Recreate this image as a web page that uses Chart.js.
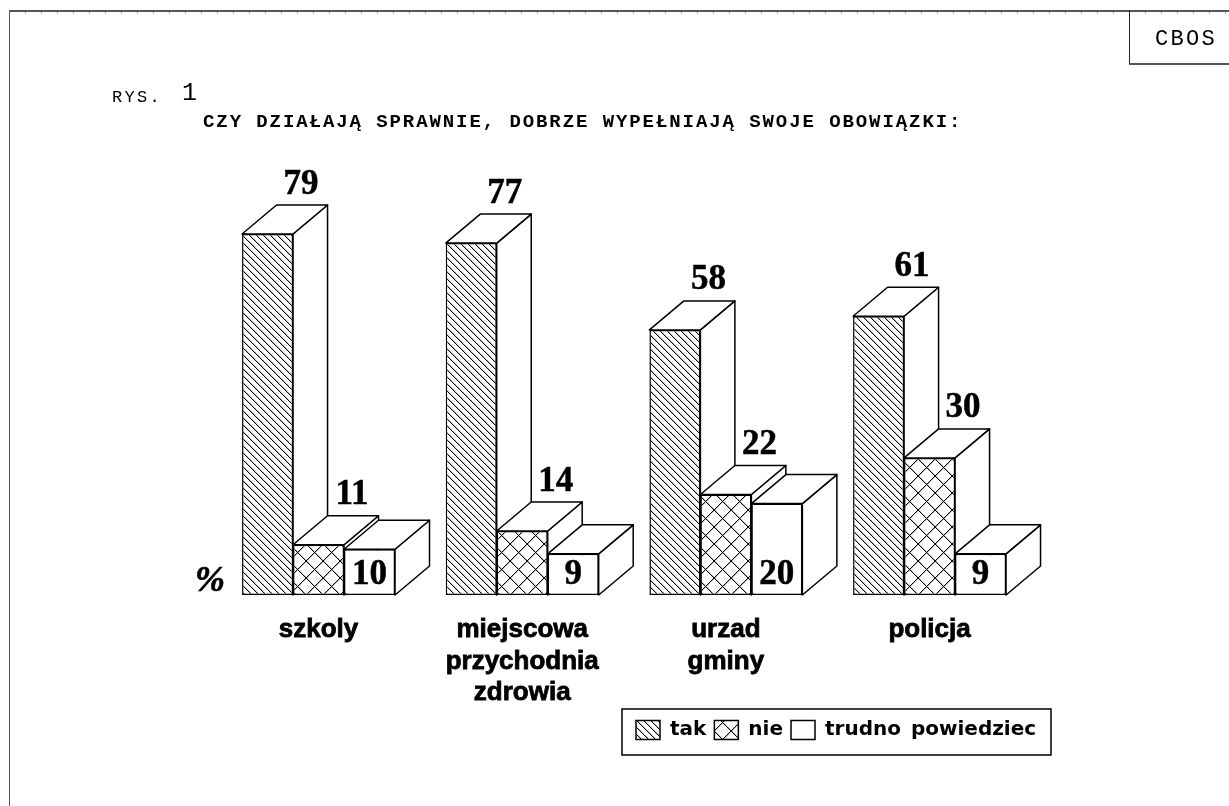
<!DOCTYPE html>
<html><head><meta charset="utf-8">
<script src="https://cdn.jsdelivr.net/npm/chart.js@4"></script>
<style>
html,body{margin:0;padding:0;background:#fff;width:1229px;height:806px;overflow:hidden}
#wrap{position:relative;width:1229px;height:806px}
canvas{position:absolute;left:0;top:0}
.t{position:absolute;color:#000;white-space:pre;line-height:1}
.l{position:absolute;background:#555}
</style></head><body>
<div id="wrap">
<canvas id="c" width="1229" height="806"></canvas>
<div class="l" style="left:9px;top:10px;width:1220px;height:2px"></div>
<div class="l" style="left:9px;top:12px;width:1220px;height:2px;background:repeating-linear-gradient(90deg,#aaa 0,#aaa 1px,transparent 1px,transparent 16px)"></div>
<div class="l" style="left:9px;top:10px;width:1px;height:796px"></div>
<div class="l" style="left:1129px;top:10px;width:1px;height:54px;background:#222"></div>
<div class="l" style="left:1129px;top:63px;width:100px;height:2px"></div>
<div class="t" style="left:1155px;top:27px;font:22px 'Liberation Mono';letter-spacing:2.3px">CBOS</div>
<div class="t" style="left:112px;top:88px;font:17px 'Liberation Mono';letter-spacing:2.3px">RYS.</div>
<div class="t" style="left:182px;top:79px;font:25px 'Liberation Mono'">1</div>
<div class="t" style="left:203px;top:111px;font:bold 19px 'Liberation Mono';letter-spacing:1.92px">CZY DZIAŁAJĄ SPRAWNIE, DOBRZE WYPEŁNIAJĄ SWOJE OBOWIĄZKI:</div>
<div class="t" style="left:195px;top:558px;font:italic bold 36px 'Liberation Serif';-webkit-text-stroke:.6px #000">%</div>
</div>
<script>
const categories = [["szkoly"], ["miejscowa","przychodnia","zdrowia"], ["urzad","gminy"], ["policja"]];
const seriesNames = ["tak", "nie", "trudno powiedziec"];
const tak = [79, 77, 58, 61];
const nie = [11, 14, 22, 30];
const trudno = [10, 9, 20, 9];

function hatchPattern(size, both){
  const p = document.createElement('canvas'); p.width = p.height = size;
  const g = p.getContext('2d');
  g.fillStyle = '#fff'; g.fillRect(0,0,size,size);
  for(let k=0;k<size;k++){
    g.fillStyle='#bbb'; g.fillRect((k+1)%size,k,1,1);
    if(both) g.fillRect((size-k)%size,k,1,1);
  }
  g.fillStyle='#000';
  for(let k=0;k<size;k++){
    g.fillRect(k,k,1,1);
    if(both) g.fillRect(size-1-k,k,1,1);
  }
  return g.createPattern(p,'repeat');
}
const DX = 34.5, DY = 29;

const box3d = {
  id:'box3d',
  beforeDatasetsDraw(chart){
    const ctx = chart.ctx;
    ctx.save();
    ctx.strokeStyle='#000'; ctx.lineWidth=1.5; ctx.lineJoin='round'; ctx.fillStyle='#fff';
    const n = chart.data.labels.length;
    for(let i=0;i<n;i++){
      chart.data.datasets.forEach((ds,d)=>{
        const b = chart.getDatasetMeta(d).data[i];
        const L=b.x-b.width/2, R=b.x+b.width/2, T=b.y, B=b.base;
        ctx.beginPath();
        ctx.moveTo(R,T); ctx.lineTo(R+DX,T-DY); ctx.lineTo(R+DX,B-DY); ctx.lineTo(R,B); ctx.closePath();
        ctx.fill(); ctx.stroke();
        ctx.beginPath();
        ctx.moveTo(L,T); ctx.lineTo(L+DX,T-DY); ctx.lineTo(R+DX,T-DY); ctx.lineTo(R,T); ctx.closePath();
        ctx.fill(); ctx.stroke();
      });
    }
    ctx.restore();
  },
  afterDatasetsDraw(chart){
    const ctx = chart.ctx;
    ctx.save();
    ctx.fillStyle='#000'; ctx.strokeStyle='#000'; ctx.lineWidth=.5;
    ctx.textAlign='center'; ctx.textBaseline='middle';
    ctx.font="bold 35px 'Liberation Serif'";
    chart.data.datasets.forEach((ds,d)=>{
      chart.getDatasetMeta(d).data.forEach((b,i)=>{
        const x = d===2 ? b.x : b.x+DX-1;
        const y = d===2 ? b.base-20 : b.y-DY-20.5;
        ctx.fillText(ds.data[i], x, y);
        ctx.strokeText(ds.data[i], x, y);
      });
    });
    ctx.restore();
  }
};
const legendFrame = {
  id:'legendFrame',
  afterLayout(chart){
    const l = chart.legend;
    l.left = 636 - l.options.labels.padding; l.right = 1229; l.top = 720 - l.options.labels.padding;
  },
  beforeDraw(chart){ chart.ctx.wordSpacing = '3px'; },
  afterDraw(chart){
    const ctx = chart.ctx;
    ctx.save(); ctx.strokeStyle='#000'; ctx.lineWidth=1.5;
    ctx.strokeRect(622,709,429,46);
    ctx.restore();
  }
};
new Chart(document.getElementById('c'),{
  type:'bar',
  data:{labels:categories,datasets:[
    {label:seriesNames[0],data:tak,backgroundColor:hatchPattern(7,false),borderColor:'#000',borderWidth:1.5,borderSkipped:false},
    {label:seriesNames[1],data:nie,backgroundColor:hatchPattern(17,true),borderColor:'#000',borderWidth:1.5,borderSkipped:false},
    {label:seriesNames[2],data:trudno,backgroundColor:'#fff',borderColor:'#000',borderWidth:1.5,borderSkipped:false}
  ]},
  plugins:[box3d,legendFrame],
  options:{
    responsive:false,animation:false,
    devicePixelRatio:1,
    layout:{padding:{left:216.7,right:197.6,top:138,bottom:0}},
    datasets:{bar:{barPercentage:1,categoryPercentage:0.751}},
    plugins:{
      tooltip:{enabled:false},
      title:{display:false},
      legend:{
        position:'bottom',align:'start',
        labels:{boxWidth:24,boxHeight:19,padding:8,color:'#000',font:{family:"'DejaVu Sans'",weight:'bold',size:20}}
      }
    },
    scales:{
      y:{display:false,min:0,max:100},
      x:{
        grid:{display:false},border:{display:false},
        afterFit(s){ s.height = 211 - s.chart.legend.height; },
        ticks:{autoSkip:false,maxRotation:0,minRotation:0,padding:11,color:'#000',
          textStrokeColor:'#000',textStrokeWidth:.8,
          font:{family:"'Liberation Sans'",weight:'bold',size:26,lineHeight:1.22}}
      }
    }
  }
});
</script>
</body></html>
